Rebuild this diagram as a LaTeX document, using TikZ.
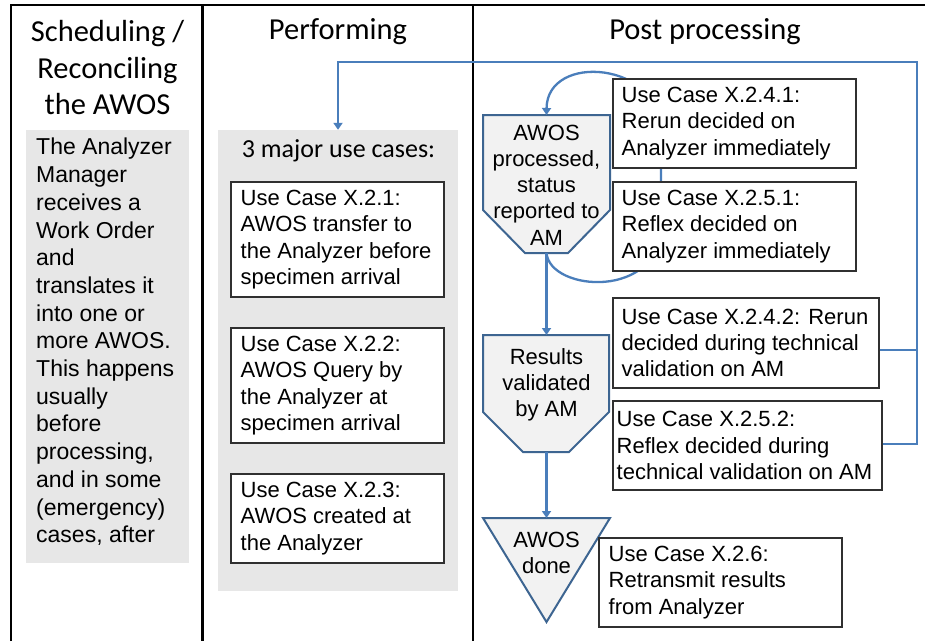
\documentclass[tikz,border=0pt]{standalone}
\usepackage{fontspec}
\setmainfont{Liberation Sans}
\newfontfamily\califont{Carlito}
\usetikzlibrary{arrows.meta}
\definecolor{conn}{HTML}{4A7EBB}
\definecolor{shapeb}{HTML}{3D6591}
\definecolor{shapef}{HTML}{F2F2F2}
\definecolor{panel}{HTML}{E7E7E7}
\definecolor{boxb}{HTML}{303030}
\tikzset{
  colline/.style={line width=2.5pt, black},
  ucbox/.style={draw=boxb, fill=white, line width=1.1pt, inner sep=0pt},
  uctext/.style={anchor=west, inner sep=0pt, align=left,
    font=\fontsize{22}{26.3}\selectfont},
  panelbox/.style={fill=panel, draw=none, inner sep=0pt},
  flowshape/.style={draw=shapeb, fill=shapef, line width=2pt, line join=miter},
  flowtext/.style={align=center, inner sep=0pt, font=\fontsize{22}{26.3}\selectfont},
  title/.style={align=center, inner sep=0pt, font=\califont\fontsize{30.5}{36.5}\selectfont},
  connline/.style={draw=conn, line width=2.3pt},
  connarrow/.style={connline, -{Triangle[width=9pt,length=7pt]}},
}
\begin{document}
\begin{tikzpicture}[x=1pt,y=-1pt]
\useasboundingbox (0,0) rectangle (925,641);
\fill[white] (0,0) rectangle (925,641);

% column frame
\draw[colline] (11,641) -- (11,5) -- (925,5);
\draw[colline] (202.5,5) -- (202.5,641);
\draw[colline] (473,5) -- (473,641);

% titles
\node[title] (t1) at (107.5,68) {Scheduling /\\Reconciling\\the AWOS};
\node[title] (t2) at (338,32) {Performing};
\node[title] (t3) at (705,32) {Post processing};

% left panel
\node[panelbox, minimum width=163pt, minimum height=433pt] (lp) at (107.5,346.5) {};
\node[anchor=west, inner sep=0pt, align=left,
  font=\fontsize{23}{27.7}\selectfont] (ltext) at (36,342)
  {The Analyzer\\Manager\\receives a\\Work Order\\and\\translates it\\into one or\\more AWOS.\\This happens\\usually\\before\\processing,\\and in some\\(emergency)\\cases, after};

% middle panel
\node[panelbox, minimum width=240pt, minimum height=461pt] (perf) at (338,360.5) {};
\node[inner sep=0pt, font=\califont\fontsize{26}{31}\selectfont] (maj) at (338.5,151) {3 major use cases:};
\node[ucbox, minimum width=213pt, minimum height=115pt] (u21) at (337.5,239.5) {};
\node[uctext] (u21t) at ([xshift=10pt]u21.west)
  {Use Case X.2.1:\\AWOS transfer to\\the Analyzer before\\specimen arrival};
\node[ucbox, minimum width=213pt, minimum height=115pt] (u22) at (337.5,385.5) {};
\node[uctext] (u22t) at ([xshift=10pt]u22.west)
  {Use Case X.2.2:\\AWOS Query by\\the Analyzer at\\specimen arrival};
\node[ucbox, minimum width=213pt, minimum height=89pt] (u23) at (337.5,518.5) {};
\node[uctext] (u23t) at ([xshift=10pt]u23.west)
  {Use Case X.2.3:\\AWOS created at\\the Analyzer};

% flow shapes (right column)
\coordinate (s1top) at (546.5,115);
\coordinate (s1bot) at (546.5,253);
\coordinate (s2top) at (546.5,335);
\coordinate (s2bot) at (546.5,452);
\coordinate (s3top) at (546.5,518);
\draw[flowshape] (483,115) -- (610,115) -- (610,210) -- (568,253) -- (525,253) -- (483,210) -- cycle;
\draw[flowshape] (483,335) -- (609,335) -- (609,412) -- (569,452) -- (523,452) -- (483,412) -- cycle;
\draw[flowshape] (483,518) -- (610,518) -- (546.5,622) -- cycle;
\node[flowtext] (s1) at (546.5,185) {AWOS\\processed,\\status\\reported to\\AM};
\node[flowtext] (s2) at (546.5,385) {Results\\validated\\by AM};
\node[flowtext] (s3) at (546.5,553) {AWOS\\done};

% loop connector (behind the boxes)
\draw[connarrow] (s1bot) .. controls (550,292) and (661,300) .. (661,225) -- (661,130)
  .. controls (661,62) and (547,52) .. (s1top);

% down connectors
\draw[connarrow] (s1bot) -- (s2top);
\draw[connarrow] (s2bot) -- (s3top);

% right use case boxes
\node[ucbox, minimum width=243pt, minimum height=89pt] (u241) at (734.5,123.5) {};
\node[uctext] (u241t) at ([xshift=9pt]u241.west)
  {Use Case X.2.4.1:\\Rerun decided on\\Analyzer immediately};
\node[ucbox, minimum width=243pt, minimum height=89pt] (u251) at (734.5,226.5) {};
\node[uctext] (u251t) at ([xshift=9pt]u251.west)
  {Use Case X.2.5.1:\\Reflex decided on\\Analyzer immediately};
\node[ucbox, minimum width=266pt, minimum height=90pt] (u242) at (746,343) {};
\node[uctext] (u242t) at ([xshift=9pt]u242.west)
  {Use Case X.2.4.2: Rerun\\decided during technical\\validation on AM};
\node[ucbox, minimum width=269pt, minimum height=89pt] (u252) at (747.5,445.5) {};
\node[uctext] (u252t) at ([xshift=4pt]u252.west)
  {Use Case X.2.5.2:\\Reflex decided during\\technical validation on AM};
\node[ucbox, minimum width=243pt, minimum height=89pt] (u26) at (720.5,582.5) {};
\node[uctext] (u26t) at ([xshift=10pt]u26.west)
  {Use Case X.2.6:\\Retransmit results\\from Analyzer};

% feedback connector to the Performing column
\coordinate (rtop) at (917,62);
\coordinate (ltop) at (338,62);
\draw[connline] ([yshift=-7pt]u242.east) -- ([yshift=-7pt]u242.east -| rtop);
\draw[connarrow] ([yshift=1.5pt]u252.east) -- ([yshift=1.5pt]u252.east -| rtop) -- (rtop) -- (ltop) -- (perf.north);
\end{tikzpicture}
\end{document}
